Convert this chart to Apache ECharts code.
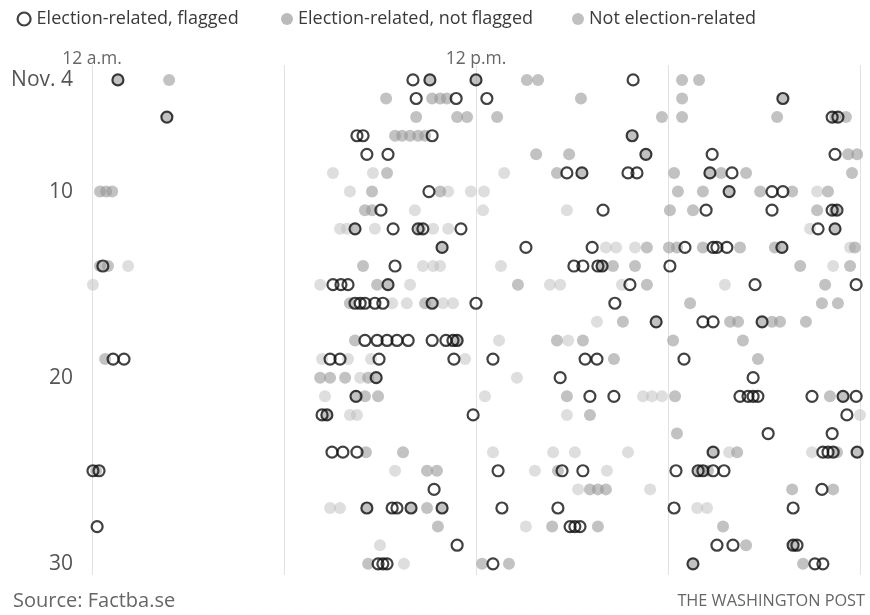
<!DOCTYPE html>
<html>
<head>
<meta charset="utf-8">
<script src="https://cdn.jsdelivr.net/npm/echarts@6/dist/echarts.min.js"></script>
<style>
html,body{margin:0;padding:0;background:#fff;}
#chart{width:870px;height:615px;}
</style>
</head>
<body>
<div id="chart"></div>
<script>
// [hour of day (0-24), day of November]
const seriesNames = ['Election-related, flagged', 'Election-related, not flagged', 'Not election-related'];
const xTickLabels = {0: '12 a.m.', 12: '12 p.m.'};
const yTickValues = [4, 10, 20, 30];

const flagged = [
[0.81,4],[10.03,4],[10.56,4],[12.0,4],[16.91,4],
[10.13,5],[11.38,5],[12.34,5],[21.59,5],
[2.34,6],[23.13,6],[23.31,6],
[8.28,7],[8.47,7],[10.63,7],[16.88,7],
[8.59,8],[9.25,8],[17.31,8],[19.38,8],[23.22,8],
[14.84,9],[15.31,9],[16.75,9],[17.03,9],[19.31,9],[20.0,9],
[10.53,10],[19.91,10],[21.25,10],[21.59,10],
[9.03,11],[15.97,11],[19.19,11],[21.25,11],[23.13,11],[23.28,11],
[8.22,12],[9.41,12],[10.19,12],[10.34,12],[11.53,12],[22.69,12],[23.22,12],
[10.94,13],[13.56,13],[15.63,13],[18.53,13],[19.41,13],[19.53,13],[19.84,13],[21.56,13],
[0.34,14],[9.47,14],[15.06,14],[15.34,14],[15.81,14],[15.94,14],[18.06,14],
[7.53,15],[7.78,15],[8.0,15],[9.25,15],[16.81,15],[20.72,15],[23.88,15],
[8.22,16],[8.38,16],[8.53,16],[8.84,16],[9.09,16],[10.63,16],[12.0,16],[16.34,16],
[17.63,17],[19.09,17],[19.41,17],[20.94,17],
[8.53,18],[8.91,18],[9.22,18],[9.53,18],[9.88,18],[10.63,18],[11.06,18],[11.28,18],[11.41,18],
[0.66,19],[1.0,19],[7.44,19],[7.75,19],[8.97,19],[11.31,19],[12.53,19],[15.41,19],[15.78,19],[18.5,19],
[8.88,20],[14.63,20],[20.66,20],
[8.25,21],[15.56,21],[16.31,21],[20.25,21],[20.5,21],[20.66,21],[20.81,21],[22.5,21],[23.47,21],[23.88,21],
[7.19,22],[7.34,22],[11.91,22],[23.59,22],
[21.13,23],[23.13,23],
[7.5,24],[7.84,24],[8.28,24],[19.41,24],[22.84,24],[23.0,24],[23.16,24],[23.91,24],
[0.03,25],[0.22,25],[12.69,25],[14.69,25],[15.34,25],[18.25,25],[18.94,25],[19.09,25],[19.41,25],[19.75,25],
[10.69,26],[22.81,26],
[8.59,27],[9.38,27],[9.53,27],[9.97,27],[10.94,27],[12.81,27],[14.56,27],[18.19,27],[21.91,27],
[0.16,28],[14.94,28],[15.09,28],[15.25,28],
[11.41,29],[19.53,29],[20.03,29],[21.91,29],[22.03,29],
[8.94,30],[9.09,30],[9.22,30],[12.53,30],[18.78,30],[22.59,30],[22.84,30]
];

const notFlagged = [
[0.81,4],[2.41,4],[10.56,4],[12.0,4],[13.59,4],[13.94,4],[18.44,4],[18.97,4],
[9.19,5],[10.63,5],[10.88,5],[11.09,5],[15.28,5],[18.44,5],[21.59,5],
[2.34,6],[10.13,6],[11.41,6],[11.72,6],[12.66,6],[17.81,6],[18.44,6],[21.41,6],[23.22,6],[23.56,6],
[9.47,7],[9.69,7],[9.94,7],[10.19,7],[10.41,7],[16.88,7],
[13.88,8],[14.91,8],[17.31,8],[23.63,8],[23.91,8],
[9.22,9],[14.53,9],[15.31,9],[18.19,9],[19.31,9],[19.66,9],[20.44,9],[23.75,9],
[0.25,10],[0.44,10],[0.63,10],[8.75,10],[10.88,10],[18.31,10],[19.09,10],[19.91,10],[20.88,10],[21.88,10],[23.0,10],
[8.53,11],[8.75,11],[18.06,11],[18.78,11],[22.66,11],[23.22,11],
[8.22,12],[10.25,12],[23.22,12],
[10.94,13],[17.34,13],[18.03,13],[18.28,13],[19.09,13],[20.25,13],[21.34,13],[21.56,13],[23.84,13],
[0.25,14],[0.5,14],[8.47,14],[15.94,14],[16.28,14],[16.97,14],[22.13,14],[23.69,14],
[8.91,15],[9.25,15],[13.31,15],[17.34,15],[22.91,15],
[8.06,16],[10.41,16],[10.63,16],[18.69,16],[22.81,16],[23.31,16],
[16.59,17],[17.63,17],[19.94,17],[20.19,17],[20.94,17],[21.25,17],[21.5,17],[22.31,17],
[8.22,18],[11.41,18],[14.53,18],[15.34,18],[18.16,18],[20.34,18],
[0.41,19],[16.31,19],[20.81,19],
[7.13,20],[7.44,20],[7.91,20],[8.63,20],[8.88,20],
[8.25,21],[8.53,21],[8.94,21],[14.84,21],[18.22,21],[23.06,21],[23.47,21],
[7.34,22],[15.56,22],
[18.28,23],
[8.56,24],[9.72,24],[19.41,24],[20.16,24],[23.28,24],[23.91,24],
[0.13,25],[10.47,25],[10.78,25],[14.56,25],[19.0,25],[19.25,25],
[15.56,26],[15.81,26],[16.06,26],[21.88,26],[23.16,26],
[8.59,27],[9.97,27],[10.47,27],[10.94,27],
[10.81,28],[14.38,28],[15.81,28],[19.72,28],
[20.44,29],[21.91,29],
[8.63,30],[12.19,30],[13.03,30],[18.78,30],[22.22,30]
];

const notElection = [
[7.53,9],[8.78,9],[12.88,9],
[8.06,10],[11.13,10],[11.84,10],[12.25,10],[22.66,10],
[10.09,11],[12.22,11],[14.84,11],
[7.75,12],[7.97,12],[8.84,12],[10.66,12],[11.13,12],[22.44,12],
[16.06,13],[16.38,13],[16.97,13],[23.69,13],
[1.13,14],[10.34,14],[10.66,14],[10.88,14],[12.78,14],[23.16,14],
[0.03,15],[7.13,15],[9.94,15],[14.31,15],[14.63,15],[16.56,15],[19.78,15],
[9.38,16],[9.84,16],[10.97,16],[11.28,16],
[15.78,17],
[12.72,18],[14.88,18],
[7.19,19],[8.0,19],[8.72,19],[11.66,19],
[8.38,20],[13.28,20],
[7.28,21],[12.28,21],[17.22,21],[17.5,21],[17.81,21],
[8.06,22],[8.28,22],[14.84,22],[24.0,22],
[12.53,24],[14.41,24],[15.09,24],[16.75,24],[19.91,24],[22.5,24],
[9.47,25],[13.84,25],[16.09,25],
[15.19,26],[17.44,26],
[7.44,27],[7.75,27],[18.91,27],[19.22,27],
[13.56,28],
[9.0,29],
[9.75,30]
];

const FONT = '"Open Sans", Roboto, sans-serif';
const legendText = (pad) => ({fontSize: 18, color: '#3a3a3a', fontFamily: FONT, padding: [0, 0, 0, pad]});
const chart = echarts.init(document.getElementById('chart'), null, {renderer: 'canvas'});
chart.setOption({
  animation: false,
  backgroundColor: '#fff',
  textStyle: {fontFamily: FONT},
  legend: [
    {top: 5, left: 11.5, itemWidth: 13, itemHeight: 13, icon: 'circle', textStyle: legendText(1),
     data: [{name: seriesNames[0], itemStyle: {color: '#fff', borderColor: '#111', borderWidth: 2.2}}]},
    {top: 5, left: 276, itemWidth: 12, itemHeight: 12, icon: 'circle', textStyle: legendText(0),
     data: [{name: seriesNames[1], itemStyle: {color: '#aaaaaa'}}]},
    {top: 5, left: 567, itemWidth: 12, itemHeight: 12, icon: 'circle', textStyle: legendText(0),
     data: [{name: seriesNames[2], itemStyle: {color: '#b0b0b0'}}]}
  ],
  grid: {left: 92, right: 10, top: 65, height: 510},
  xAxis: {
    type: 'value', min: 0, max: 24, interval: 6, position: 'top',
    axisLine: {show: false}, axisTick: {show: false},
    axisLabel: {
      margin: -3, fontSize: 17.5, color: '#666', fontFamily: FONT,
      formatter: v => xTickLabels[v] || ''
    },
    splitLine: {show: true, lineStyle: {color: '#e2e2e2', width: 1}}
  },
  yAxis: {
    type: 'value', min: 3.2, max: 30.6, inverse: true,
    axisLine: {show: false}, axisTick: {show: false},
    splitLine: {show: false},
    axisLabel: {
      customValues: yTickValues,
      margin: 19, fontSize: 21, color: '#555', fontFamily: FONT,
      formatter: v => v === 4 ? 'Nov. 4' : String(v)
    }
  },
  series: [
    {
      name: seriesNames[2], type: 'scatter', data: notElection, symbolSize: 12, z: 1,
      itemStyle: {color: 'rgba(185,185,185,0.6)'}
    },
    {
      name: seriesNames[1], type: 'scatter', data: notFlagged, symbolSize: 12, z: 2,
      itemStyle: {color: 'rgba(150,150,150,0.72)'}
    },
    {
      name: seriesNames[0], type: 'scatter', data: flagged, symbolSize: 11, z: 3,
      itemStyle: {color: 'rgba(0,0,0,0)', borderColor: '#111', borderWidth: 2.2}
    }
  ],
  graphic: [
    {type: 'text', left: 13, top: 591, style: {text: 'Source: Factba.se', fontSize: 20, fill: '#666', fontFamily: FONT}},
    {type: 'text', right: 5, top: 593, style: {text: 'THE WASHINGTON POST', fontSize: 16.3, fill: '#666', fontFamily: FONT}}
  ]
});
</script>
</body>
</html>
